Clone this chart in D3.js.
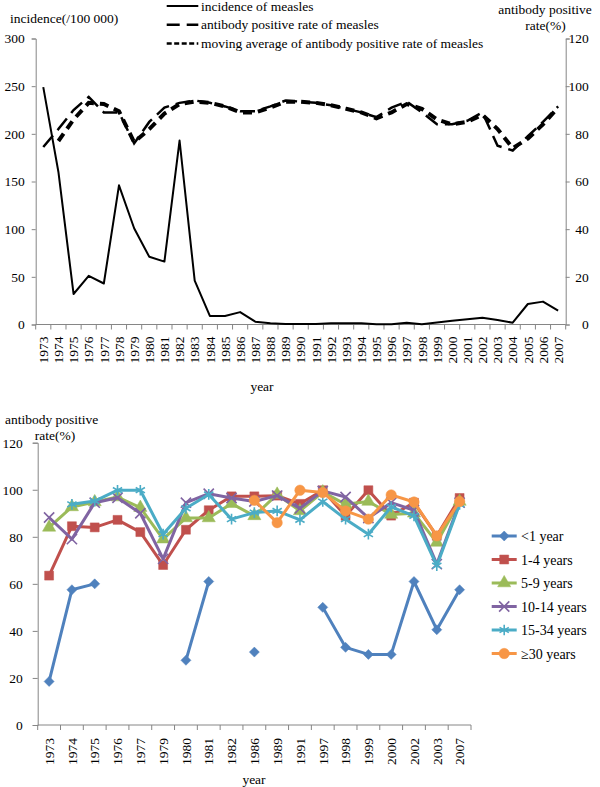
<!DOCTYPE html>
<html>
<head>
<meta charset="utf-8">
<script src="https://cdn.jsdelivr.net/npm/d3@7"></script>
<style>
body{margin:0;background:#fff;}
text{font-family:"Liberation Serif","Times New Roman",serif;fill:#000;}
</style>
</head>
<body>
<svg id="c" width="600" height="787"></svg>
<script>
// ---------- Top chart data ----------
const years = d3.range(1973, 2008).map(String);
const incidence = [249,160,32,51,43,146,101,71,66,193,46,9,9,13,3,1.2,0.5,0.5,0.5,1.2,1.2,1.2,0.3,0.3,1.9,0.3,2,4,5.4,7.1,4.7,1.9,21.5,24,14.5];
const antibodyRate = [74.5,82,90,95.5,89,89,76,85,91,93,94,93,91.5,89.5,89.5,91.5,94,93.5,93,92,90.5,89,87,91,93.5,89,84,84,85.5,89,75,73,79,85,91.5];
const movingAvg = [null,77,86,93,92.5,89.5,76.5,82,88.5,92.5,93.5,93,91.5,89,89,91,93.5,93.5,93,92,90.5,89,86.5,89,92.5,90.5,86,84,85,88,82,74,78,84,91];
const leftTicks = [0,50,100,150,200,250,300];
const rightTicks = [0,20,40,60,80,100,120];
const topLegend = ["incidence of measles","antibody positive rate of measles","moving average of antibody positive rate of measles"];

// ---------- Bottom chart data ----------
const categories = ["1973","1974","1975","1976","1977","1979","1980","1981","1982","1986","1989","1991","1997","1998","1999","2000","2002","2003","2007"];
const seriesNames = ["<1 year","1-4 years","5-9 years","10-14 years","15-34 years","≥30 years"];
const lt1 = [18.5,57.5,60,null,null,null,27.5,61,null,31,null,null,50,33,30,30,61,40.5,57.5];
const y1to4 = [63.5,84.5,84,87.2,82,68,83,91.3,97.2,97.2,97.5,94,99.8,88.9,99.8,89,94.5,80.4,96.5];
const y5to9 = [84,92.7,94.8,96.9,92.4,79,88,88,94.1,88.9,98,91,99,93.8,95,89.5,90,77.6,95];
const y10to14 = [88.2,79,94.5,96.6,90,70.6,94.5,98.3,96.5,95,97.5,92.1,99.5,96.9,88,94.5,91.3,68.4,94.5];
const y15to34 = [null,93.8,95.2,99.8,99.8,81.1,92.1,98,87.5,90.3,91,87.2,95,87.5,81.1,92.7,88.9,67.7,93.8];
const ge30 = [null,null,null,null,null,null,null,null,null,95.5,86,99.8,98.8,91,87.5,97.8,94.8,80.4,95];
const bottomTicks = [0,20,40,60,80,100,120];
const seriesColors = ["#4F81BD","#C0504D","#9BBB59","#8064A2","#4BACC6","#F79646"];

const svg = d3.select("#c");
const axisColor = "#868686";
const fs = "13.5px";

// ================= TOP CHART =================
const T = {l:35.7, r:565.7, t:38.5, b:324.5};
const xT = d3.scaleBand().domain(years).range([T.l, T.r]);
const yL = d3.scaleLinear().domain([0,300]).range([T.b, T.t]);
const yR = d3.scaleLinear().domain([0,120]).range([T.b, T.t]);

const gT = svg.append("g");
const axL = gT.append("g").attr("transform",`translate(${T.l},0)`)
  .call(d3.axisLeft(yL).tickValues(leftTicks).tickSize(4).tickPadding(7).tickFormat(d3.format("d")));
const axR = gT.append("g").attr("transform",`translate(${T.r},0)`)
  .call(d3.axisRight(yR).tickValues(rightTicks).tickSize(4).tickPadding(6).tickFormat(d3.format("d")));
const axB = gT.append("g").attr("transform",`translate(0,${T.b})`)
  .call(d3.axisBottom(xT).tickSize(0).tickPadding(0));
[axL,axR,axB].forEach(a=>{
  a.selectAll("path,line").attr("stroke",axisColor);
  a.selectAll("text").style("font-family","Liberation Serif").style("font-size",fs).attr("fill","#000");
});
axR.selectAll("text").attr("text-anchor","end").attr("x",23);
axB.selectAll("text").attr("transform","rotate(-90)").attr("text-anchor","end")
  .attr("x",-12).attr("y",0).attr("dy","0.35em");
axB.select(".domain").attr("d",`M${T.l},0H${T.r}`);
gT.append("g").selectAll("line").data(years.concat(["_end"])).join("line")
  .attr("x1",d=>d==="_end"?T.r:xT(d)).attr("x2",d=>d==="_end"?T.r:xT(d))
  .attr("y1",T.b).attr("y2",T.b+5).attr("stroke",axisColor);

const cx = d=>xT(d)+xT.bandwidth()/2;
const incData = years.map((y,i)=>({x:y,v:incidence[i]}));
const abData = years.map((y,i)=>({x:y,v:antibodyRate[i]}));
const maData = years.map((y,i)=>({x:y,v:movingAvg[i]}));

gT.append("path").datum(incData).attr("fill","none").attr("stroke","#000").attr("stroke-width",2)
  .attr("stroke-linejoin","round")
  .attr("d",d3.line().x(d=>cx(d.x)).y(d=>yL(d.v)));
gT.append("path").datum(abData.filter(d=>d.v!=null)).attr("fill","none").attr("stroke","#000").attr("stroke-width",2.5)
  .attr("stroke-dasharray","15,7")
  .attr("d",d3.line().x(d=>cx(d.x)).y(d=>yR(d.v)));
gT.append("path").datum(maData.filter(d=>d.v!=null)).attr("fill","none").attr("stroke","#000").attr("stroke-width",4)
  .attr("stroke-dasharray","9,6")
  .attr("d",d3.line().x(d=>cx(d.x)).y(d=>yR(d.v)));

gT.append("text").attr("x",10).attr("y",22.5).style("font-size",fs).text("incidence(/100 000)");
gT.append("text").attr("x",545).attr("y",14).attr("text-anchor","middle").style("font-size",fs).text("antibody positive");
gT.append("text").attr("x",545.5).attr("y",29.5).attr("text-anchor","middle").style("font-size",fs).text("rate(%)");
gT.append("text").attr("x",262).attr("y",391).attr("text-anchor","middle").style("font-size",fs).text("year");

const legStyles = [{w:2,dash:null},{w:2.5,dash:"13,7"},{w:2.5,dash:"5,2.5"}];
topLegend.forEach((name,i)=>{
  const yy = 6 + i*18.7;
  gT.append("line").attr("x1",166.7).attr("x2",198.3).attr("y1",yy).attr("y2",yy)
    .attr("stroke","#000").attr("stroke-width",legStyles[i].w)
    .attr("stroke-dasharray",legStyles[i].dash);
  gT.append("text").attr("x",201).attr("y",yy+4.5).style("font-size",fs).text(name);
});

// ================= BOTTOM CHART =================
const B = {l:37.7, r:471, t:442.7, b:725};
const xB = d3.scaleBand().domain(categories).range([B.l,B.r]);
const yB = d3.scaleLinear().domain([0,120]).range([B.b,B.t]);
const gB = svg.append("g");
const bL = gB.append("g").attr("transform",`translate(${B.l},0)`)
  .call(d3.axisLeft(yB).tickValues(bottomTicks).tickSize(5).tickPadding(10).tickFormat(d3.format("d")));
const bB = gB.append("g").attr("transform",`translate(0,${B.b})`)
  .call(d3.axisBottom(xB).tickSize(0).tickPadding(0));
[bL,bB].forEach(a=>{
  a.selectAll("path,line").attr("stroke",axisColor);
  a.selectAll("text").style("font-family","Liberation Serif").style("font-size",fs).attr("fill","#000");
});
bB.selectAll("text").attr("transform","rotate(-90)").attr("text-anchor","end")
  .attr("x",-13).attr("y",0).attr("dy","0.35em");
bB.select(".domain").attr("d",`M${B.l},0H${B.r}`);
gB.append("g").selectAll("line").data(categories.concat(["_end"])).join("line")
  .attr("x1",d=>d==="_end"?B.r:xB(d)).attr("x2",d=>d==="_end"?B.r:xB(d))
  .attr("y1",B.b).attr("y2",B.b+5).attr("stroke",axisColor);

gB.append("text").attr("x",5).attr("y",424).style("font-size",fs).text("antibody positive");
gB.append("text").attr("x",55).attr("y",439.5).attr("text-anchor","middle").style("font-size",fs).text("rate(%)");
gB.append("text").attr("x",254).attr("y",784).attr("text-anchor","middle").style("font-size",fs).text("year");

const allSeries = [lt1,y1to4,y5to9,y10to14,y15to34,ge30];
const symbols = [
  {t:d3.symbolSquare, s:50, fill:true, rot:45},
  {t:d3.symbolSquare, s:80, fill:true, rot:0},
  {t:d3.symbolTriangle, s:75, fill:true, rot:0},
  {t:d3.symbolX, s:70, fill:false, rot:0},
  {t:d3.symbolAsterisk, s:80, fill:false, rot:0},
  {t:d3.symbolCircle, s:85, fill:true, rot:0}
];
const cxB = d=>xB(d)+xB.bandwidth()/2;
const lineB = d3.line().defined(d=>d.v!=null).x(d=>cxB(d.c)).y(d=>yB(d.v));

function drawMarker(g, i, x, y){
  const sym = symbols[i];
  g.append("path").attr("transform",`translate(${x},${y}) rotate(${sym.rot})`)
    .attr("d",d3.symbol().type(sym.t).size(sym.s)())
    .attr("fill",sym.fill?seriesColors[i]:"none")
    .attr("stroke",seriesColors[i]).attr("stroke-width",sym.fill?0.5:1.6);
}

allSeries.forEach((vals,i)=>{
  const data = categories.map((c,j)=>({c:c,v:vals[j]}));
  const g = gB.append("g");
  g.append("path").datum(data).attr("fill","none").attr("stroke",seriesColors[i])
    .attr("stroke-width",3).attr("stroke-linejoin","round").attr("d",lineB);
  data.filter(d=>d.v!=null).forEach(d=>drawMarker(g,i,cxB(d.c),yB(d.v)));
});

seriesNames.forEach((name,i)=>{
  const yy = 536 + i*23.5;
  const g = gB.append("g");
  g.append("line").attr("x1",491.7).attr("x2",516.7).attr("y1",yy).attr("y2",yy)
    .attr("stroke",seriesColors[i]).attr("stroke-width",3);
  drawMarker(g,i,504.2,yy);
  g.append("text").attr("x",521).attr("y",yy+5).style("font-size","14px").text(name);
});
</script>
</body>
</html>
